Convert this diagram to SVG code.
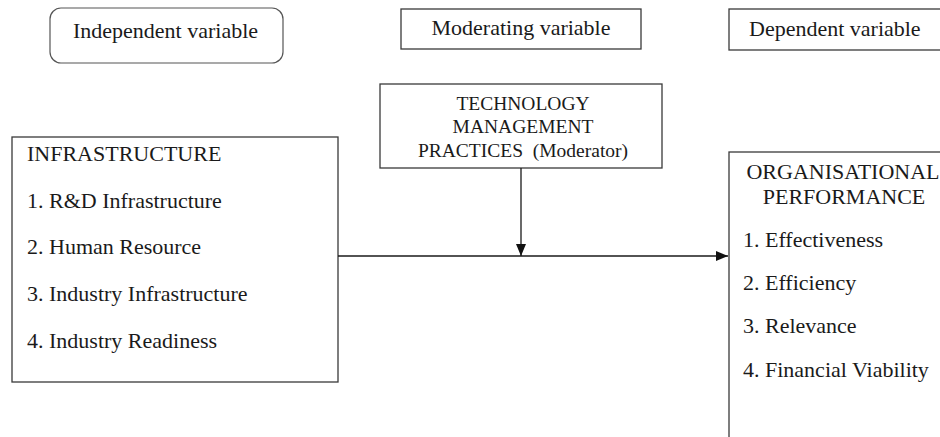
<svg xmlns="http://www.w3.org/2000/svg" width="940" height="437" viewBox="0 0 940 437">
<style>
.box{fill:#fff;stroke:#3a3a3a;stroke-width:1.3}
.rbox{fill:#fff;stroke:#555;stroke-width:1.2}
text{font-family:'Liberation Serif','Times New Roman',Tinos,'DejaVu Serif',serif;fill:#1a1a1a}
.t{font-size:22px}
.s{font-size:19.5px}
.c{text-anchor:middle}
.conn{stroke:#1a1a1a;stroke-width:1.3;fill:none}
</style>
<defs>
<marker id="ah" markerWidth="12" markerHeight="10" refX="12" refY="5" orient="auto" markerUnits="userSpaceOnUse">
<path d="M0,0 L12,5 L0,10 Z" fill="#111"/>
</marker>
</defs>
<rect width="940" height="437" fill="#fff"/>
<g id="legend-independent">
<rect class="rbox" x="50" y="8" width="233" height="55" rx="11"/>
<text class="t" x="73" y="38">Independent variable</text>
</g>
<g id="legend-moderating">
<rect class="box" x="401" y="9" width="240" height="40"/>
<text class="t c" x="521" y="35">Moderating variable</text>
</g>
<g id="legend-dependent">
<rect class="box" x="729" y="9" width="230" height="41"/>
<text class="t" x="749" y="36">Dependent variable</text>
</g>
<g id="moderator">
<rect class="box" x="380" y="84" width="282" height="84"/>
<text class="s c" x="523" y="110">TECHNOLOGY</text>
<text class="s c" x="523" y="133">MANAGEMENT</text>
<text class="s c" x="523" y="157" xml:space="preserve">PRACTICES  (Moderator)</text>
</g>
<g id="infrastructure">
<rect class="box" x="12" y="137" width="326" height="245"/>
<text class="t" x="27" y="161">INFRASTRUCTURE</text>
<text class="t" x="27" y="208">1. R&amp;D Infrastructure</text>
<text class="t" x="27" y="254">2. Human Resource</text>
<text class="t" x="27" y="301">3. Industry Infrastructure</text>
<text class="t" x="27" y="348">4. Industry Readiness</text>
</g>
<g id="performance">
<rect class="box" x="729" y="152" width="260" height="320"/>
<text class="t c" x="843" y="179">ORGANISATIONAL</text>
<text class="t c" x="844" y="204">PERFORMANCE</text>
<text class="t" x="743" y="247">1. Effectiveness</text>
<text class="t" x="743" y="290">2. Efficiency</text>
<text class="t" x="743" y="333">3. Relevance</text>
<text class="t" x="743" y="377">4. Financial Viability</text>
</g>
<g id="connectors">
<line class="conn" x1="338" y1="256" x2="728" y2="256" marker-end="url(#ah)"/>
<line class="conn" x1="521" y1="168" x2="521" y2="256" marker-end="url(#ah)"/>
</g>
</svg>
